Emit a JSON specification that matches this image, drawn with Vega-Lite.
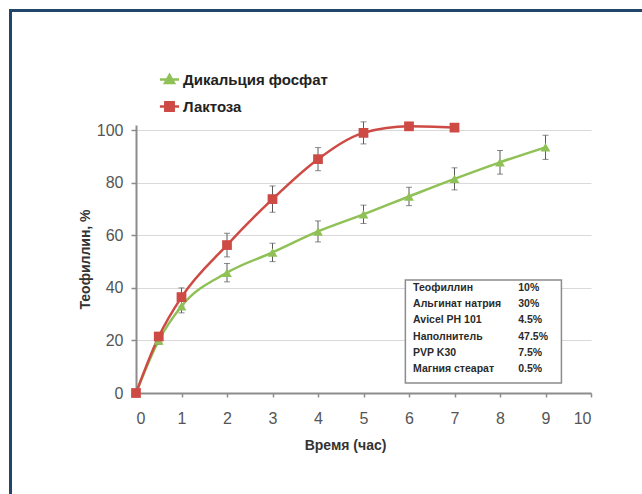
{
  "$schema": "https://vega.github.io/schema/vega-lite/v6.json",
  "width": 455,
  "height": 268,
  "autosize": "none",
  "padding": {"left": 136, "top": 125, "right": 51, "bottom": 101},
  "background": "white",
  "config": {
    "font": "Liberation Sans",
    "view": {"stroke": null},
    "axis": {
      "labelFont": "Liberation Sans",
      "labelFontSize": 16,
      "labelColor": "#555555",
      "titleFont": "Liberation Sans",
      "titleFontSize": 14,
      "titleFontWeight": "bold",
      "titleColor": "#333333",
      "domainColor": "#8c8c8c",
      "domainWidth": 2,
      "tickColor": "#8c8c8c",
      "tickWidth": 1.5,
      "gridColor": "#d9d9d9",
      "gridWidth": 1
    },
    "legend": {
      "orient": "none",
      "legendX": 26,
      "legendY": -53,
      "padding": 0,
      "rowPadding": 8,
      "labelFont": "Liberation Sans",
      "labelFontSize": 15,
      "labelFontWeight": "bold",
      "labelColor": "#222222",
      "labelOffset": 6,
      "symbolSize": 144,
      "symbolStrokeWidth": 2.5
    }
  },
  "datasets": {
    "release": [
      {"series": "Дикальция фосфат", "t": 0, "value": 0, "err": 0},
      {"series": "Дикальция фосфат", "t": 0.5, "value": 20, "err": 1.5},
      {"series": "Дикальция фосфат", "t": 1, "value": 33, "err": 2.5},
      {"series": "Дикальция фосфат", "t": 2, "value": 45.8, "err": 3.5},
      {"series": "Дикальция фосфат", "t": 3, "value": 53.5, "err": 3.5},
      {"series": "Дикальция фосфат", "t": 4, "value": 61.5, "err": 4},
      {"series": "Дикальция фосфат", "t": 5, "value": 68, "err": 3.5},
      {"series": "Дикальция фосфат", "t": 6, "value": 74.8, "err": 3.5},
      {"series": "Дикальция фосфат", "t": 7, "value": 81.5, "err": 4.2},
      {"series": "Дикальция фосфат", "t": 8, "value": 87.8, "err": 4.5},
      {"series": "Дикальция фосфат", "t": 9, "value": 93.5, "err": 4.6},
      {"series": "Лактоза", "t": 0, "value": 0, "err": 0},
      {"series": "Лактоза", "t": 0.5, "value": 21.5, "err": 1.5},
      {"series": "Лактоза", "t": 1, "value": 36.5, "err": 3.5},
      {"series": "Лактоза", "t": 2, "value": 56.3, "err": 4.5},
      {"series": "Лактоза", "t": 3, "value": 73.8, "err": 5},
      {"series": "Лактоза", "t": 4, "value": 89, "err": 4.4},
      {"series": "Лактоза", "t": 5, "value": 99, "err": 4.2},
      {"series": "Лактоза", "t": 6, "value": 101.5, "err": 0},
      {"series": "Лактоза", "t": 7, "value": 101, "err": 0}
    ],
    "formula": [
      {"row": 1, "component": "Теофиллин", "share": "10%"},
      {"row": 2, "component": "Альгинат натрия", "share": "30%"},
      {"row": 3, "component": "Avicel PH 101", "share": "4.5%"},
      {"row": 4, "component": "Наполнитель", "share": "47.5%"},
      {"row": 5, "component": "PVP K30", "share": "7.5%"},
      {"row": 6, "component": "Магния стеарат", "share": "0.5%"}
    ]
  },
  "layer": [
    {
      "layer": [
        {
          "data": {"name": "release"},
          "mark": {"type": "line", "interpolate": "monotone", "strokeWidth": 2.5},
          "encoding": {
            "x": {
              "field": "t",
              "type": "quantitative",
              "title": "Время (час)",
              "scale": {"domain": [0, 10], "nice": false},
              "axis": {
                "values": [0, 1, 2, 3, 4, 5, 6, 7, 8, 9, 10],
                "format": "d",
                "grid": false,
                "tickSize": 4,
                "labelPadding": 13,
                "titlePadding": 12,
                "titleX": 209
              }
            },
            "y": {
              "field": "value",
              "type": "quantitative",
              "title": "Теофиллин, %",
              "scale": {"domain": [0, 102], "nice": false},
              "axis": {
                "values": [0, 20, 40, 60, 80, 100],
                "grid": true,
                "tickSize": 5,
                "labelPadding": 8,
                "titlePadding": 4
              }
            },
            "color": {
              "field": "series",
              "type": "nominal",
              "scale": {"domain": ["Дикальция фосфат", "Лактоза"], "range": ["#8fc156", "#cd4a45"]},
              "legend": {
                "title": null,
                "symbolType": {"expr": "datum.value === 'Лактоза' ? 'M-1.6,0H1.6M-0.7,-0.7H0.7V0.7H-0.7Z' : 'M-1.6,0H1.6M-0.75,0.6L0,-0.75L0.75,0.6Z'"},
                "symbolFillColor": {"expr": "datum.value === 'Лактоза' ? '#cd4a45' : '#8fc156'"}
              }
            }
          }
        },
        {
          "data": {"name": "release"},
          "mark": {
            "type": "errorbar",
            "ticks": {"size": 6, "color": "#5a5a5a", "thickness": 1},
            "rule": {"color": "#5a5a5a", "strokeWidth": 1}
          },
          "encoding": {
            "x": {"field": "t", "type": "quantitative", "title": "Время (час)"},
            "y": {"field": "value", "type": "quantitative", "title": "Теофиллин, %"},
            "yError": {"field": "err"}
          }
        },
        {
          "data": {"name": "release"},
          "transform": [{"filter": "datum.series === 'Дикальция фосфат'"}],
          "mark": {"type": "point", "shape": "triangle-up", "filled": true, "opacity": 1, "size": 95, "color": "#8fc156"},
          "encoding": {
            "x": {"field": "t", "type": "quantitative", "title": "Время (час)"},
            "y": {"field": "value", "type": "quantitative", "title": "Теофиллин, %"}
          }
        },
        {
          "data": {"name": "release"},
          "transform": [{"filter": "datum.series === 'Лактоза'"}],
          "mark": {"type": "point", "shape": "square", "filled": true, "opacity": 1, "size": 95, "color": "#cd4a45"},
          "encoding": {
            "x": {"field": "t", "type": "quantitative", "title": "Время (час)"},
            "y": {"field": "value", "type": "quantitative", "title": "Теофиллин, %"}
          }
        },
        {
          "data": {"values": [{}]},
          "mark": {"type": "rect", "fill": "white", "stroke": "#8c8c8c", "strokeWidth": 1.5},
          "encoding": {
            "x": {"datum": 5.92, "type": "quantitative"},
            "x2": {"datum": 9.35},
            "y": {"datum": 43.0, "type": "quantitative"},
            "y2": {"datum": 3.8}
          }
        },
        {
          "data": {"values": [{}]},
          "mark": {"type": "rect", "fill": null, "stroke": "#22466a", "strokeWidth": 3, "clip": false},
          "encoding": {
            "x": {"datum": -2.758, "type": "quantitative"},
            "x2": {"datum": 13},
            "y": {"datum": 145.6, "type": "quantitative"},
            "y2": {"datum": -50}
          }
        }
      ]
    },
    {
      "data": {"name": "formula"},
      "layer": [
        {
          "mark": {"type": "text", "align": "left", "baseline": "middle", "font": "Liberation Sans", "fontSize": 10.5, "fontWeight": "bold", "color": "#2a2a2a"},
          "encoding": {
            "x": {"datum": 6.09, "type": "quantitative"},
            "y": {"field": "row", "type": "quantitative", "scale": {"domain": [-9.062, 7.481], "reverse": true, "nice": false, "zero": false}, "axis": null},
            "text": {"field": "component"}
          }
        },
        {
          "mark": {"type": "text", "align": "left", "baseline": "middle", "font": "Liberation Sans", "fontSize": 10.5, "fontWeight": "bold", "color": "#2a2a2a"},
          "encoding": {
            "x": {"datum": 8.4, "type": "quantitative"},
            "y": {"field": "row", "type": "quantitative", "scale": {"domain": [-9.062, 7.481], "reverse": true, "nice": false, "zero": false}, "axis": null},
            "text": {"field": "share"}
          }
        }
      ]
    }
  ],
  "resolve": {"scale": {"y": "independent"}}
}
